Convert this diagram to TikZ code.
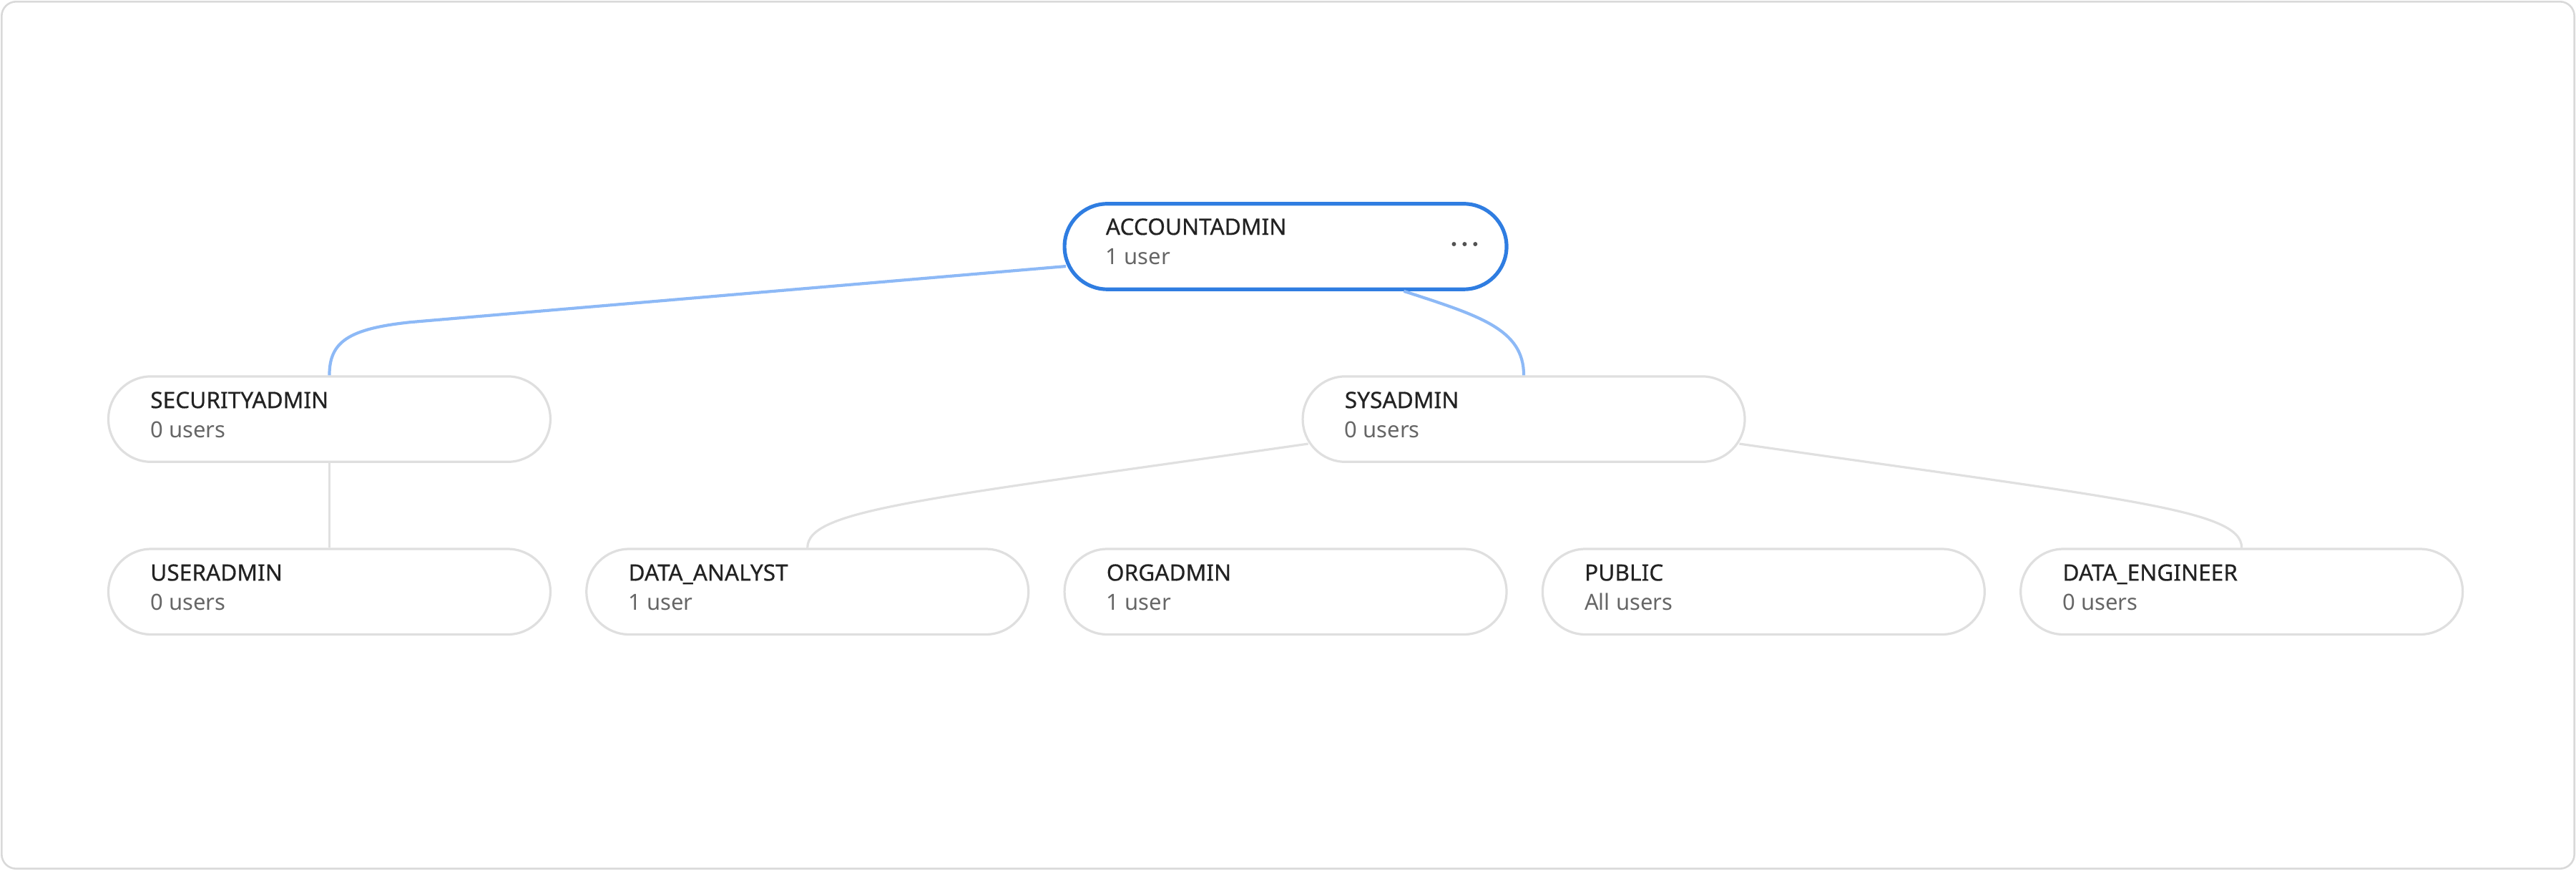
\documentclass[tikz,border=0pt]{standalone}
\usepackage{fontspec}
\setmainfont{Noto Sans}
\usetikzlibrary{calc}
\definecolor{frameC}{HTML}{D9D9D9}
\definecolor{boxC}{HTML}{DFDFDF}
\definecolor{accC}{HTML}{2F7DE1}
\definecolor{blueEdge}{HTML}{8DB9F6}
\definecolor{grayEdge}{HTML}{E0E0E0}
\definecolor{titleC}{HTML}{222222}
\definecolor{subC}{HTML}{666666}
\tikzset{
  rolebox/.style={draw=boxC, line width=1pt, fill=white, rectangle,
    minimum width=6.725cm, minimum height=1.3cm, rounded corners=0.65cm, inner sep=0pt},
  activebox/.style={rolebox, draw=accC, line width=1.6pt},
  roletitle/.style={anchor=base west, inner sep=0pt, font=\fontsize{9.8}{11}\selectfont\addfontfeature{FakeBold=0.5}, text=titleC},
  rolesub/.style={anchor=base west, inner sep=0pt, font=\fontsize{9.6}{11}\selectfont, text=subC},
  blueline/.style={draw=blueEdge, line width=1.3pt},
  grayline/.style={draw=grayEdge, line width=1pt},
}
\newcommand{\mkrole}[5][rolebox]{%
  \node[#1] (#2) at (#3) {};
  \node[roletitle] (#2t) at ($(#2.north west)+(26,20)$) {#4};
  \node[rolesub] (#2s) at ($(#2.north west)+(26,38)$) {#5};
}
\begin{document}
\begin{tikzpicture}[x=0.025cm, y=-0.025cm]
\useasboundingbox (0,0) rectangle (1568,529.5);
\draw[frameC, line width=0.8pt, rounded corners=0.22cm] (1,1) rectangle (1567,528.5);

\mkrole[activebox]{acc}{782.5,150}{ACCOUNTADMIN}{1 user}
\mkrole{sec}{200.5,255}{SECURITYADMIN}{0 users}
\mkrole{sys}{927.5,255}{SYSADMIN}{0 users}
\mkrole{usr}{200.5,360}{USERADMIN}{0 users}
\mkrole{dan}{491.5,360}{DATA\_ANALYST}{1 user}
\mkrole{org}{782.5,360}{ORGADMIN}{1 user}
\mkrole{pub}{1073.5,360}{PUBLIC}{All users}
\mkrole{den}{1364.5,360}{DATA\_ENGINEER}{0 users}

% connectors
\draw[blueline] ($(acc.west)+(2,12)$) -- (250,196) .. controls (212,200) and (200.5,208) .. (sec.north);
\draw[blueline] ($(acc.south)+(72,0)$) .. controls (900,192) and (927.5,200) .. (sys.north);
\draw[grayline] (sec.south) -- (usr.north);
\draw[grayline] ($(sys.west)+(4,15)$) .. controls (560,304) and (491.5,310) .. (dan.north);
\draw[grayline] ($(sys.east)+(-4,15)$) .. controls (1295,304) and (1364.5,310) .. (den.north);

% ellipsis menu
\foreach \dx in {0,6.5,13} \fill[subC!80!black] (885+\dx,148.5) circle (1.3);
\end{tikzpicture}
\end{document}
